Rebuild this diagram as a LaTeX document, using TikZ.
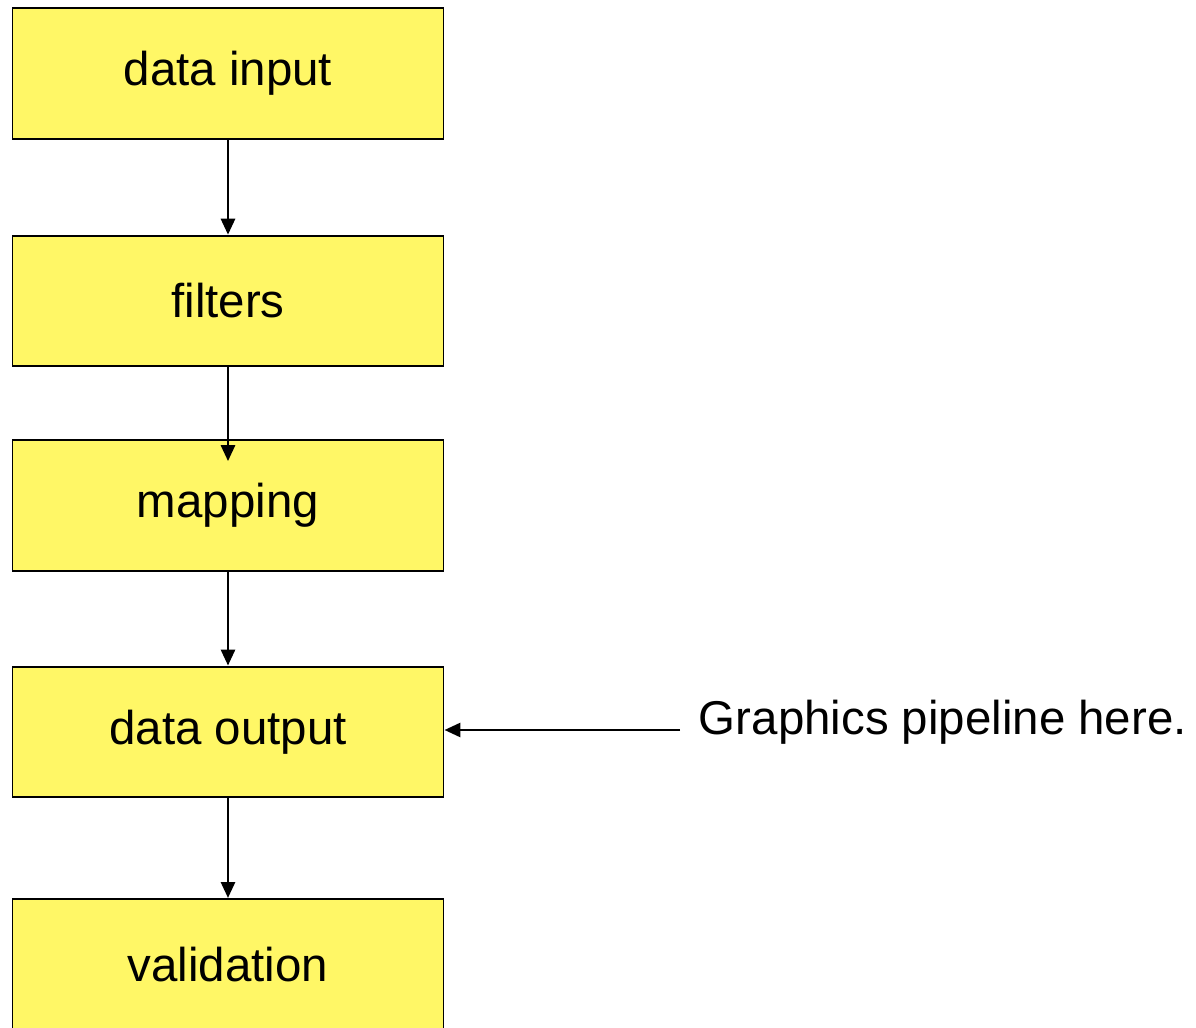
\documentclass[tikz,border=0pt]{standalone}
\usepackage{fontspec}
\setmainfont{Liberation Sans}
\usetikzlibrary{arrows.meta}
\usetikzlibrary{positioning}

\begin{document}
\begin{tikzpicture}[->,>={Triangle[length=0.32cm,width=0.28cm]},line width=1.6pt,
			node distance=2cm]
			\tikzstyle{stage}=[draw,line width=1.1pt,fill=yellow!60!white,minimum width=8.62cm,minimum height=2.61cm,font=\fontsize{27}{32}\selectfont]
			\useasboundingbox (0,0) rectangle (23.92,-20.56);
			
			\node[stage]         (input)    at (4.56,-1.47)        {data input};
			\node[stage]         (filters)  [below=1.90cm of input]    {filters};
			\node[stage]         (mapping)  [below=1.44cm of filters]  {mapping};
			\node[stage]         (output)   [below=1.88cm of mapping]  {data output};
			\node[stage]         (valid)    [below=2.00cm of output]   {validation};
			\node[inner sep=0pt,anchor=base west,font=\fontsize{27}{32}\selectfont] (note) at (13.95,-14.68) {Graphics pipeline here.};
			\coordinate (noteend) at (13.6,-14.6);
			
			\path (input) edge                   (filters)
			(filters) edge                       ([yshift=-0.44cm]mapping.north)
			(mapping) edge                       (output)
			(output) edge                        (valid)
			(noteend) edge                       (output.east |- noteend)
			;
			\end{tikzpicture}
\end{document}
